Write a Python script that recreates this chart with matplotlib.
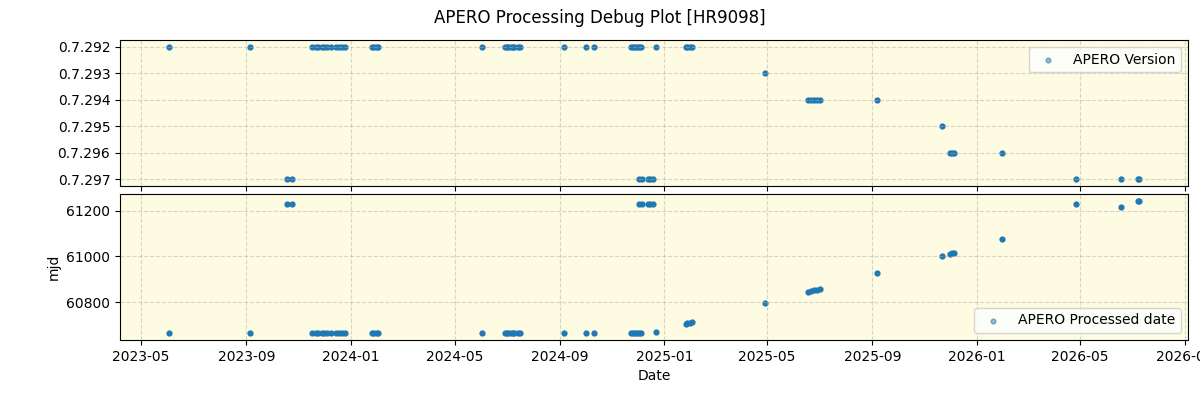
import pandas as pd
import numpy as np
import matplotlib
matplotlib.use("Agg")
import matplotlib.pyplot as plt
import matplotlib.dates as mdates

# Observation dates, APERO version used and processed date (MJD)
obs_dates = [
    "2023-06-02", "2023-09-05", "2023-10-18", "2023-10-24",
    "2023-11-17", "2023-11-21", "2023-11-24", "2023-11-28", "2023-12-01",
    "2023-12-04", "2023-12-09", "2023-12-15", "2023-12-18", "2023-12-22",
    "2023-12-25", "2024-01-26", "2024-01-28", "2024-01-31", "2024-02-02",
    "2024-06-02", "2024-06-29", "2024-07-01", "2024-07-03", "2024-07-06",
    "2024-07-08", "2024-07-10", "2024-07-14", "2024-07-16", "2024-09-06",
    "2024-10-01", "2024-10-11", "2024-11-23", "2024-11-25", "2024-11-28",
    "2024-11-30", "2024-12-02", "2024-12-05", "2024-12-03", "2024-12-06",
    "2024-12-13", "2024-12-15", "2024-12-19", "2024-12-22", "2025-01-26",
    "2025-01-28", "2025-01-31", "2025-02-02", "2025-04-29", "2025-06-18",
    "2025-06-21", "2025-06-25", "2025-06-28", "2025-07-02", "2025-09-07",
    "2025-11-21", "2025-12-01", "2025-12-03", "2025-12-05", "2026-01-30",
    "2026-04-27", "2026-06-19", "2026-07-08", "2026-07-10",
]
versions = [
    "0.7.292", "0.7.292", "0.7.297", "0.7.297",
    "0.7.292", "0.7.292", "0.7.292", "0.7.292", "0.7.292",
    "0.7.292", "0.7.292", "0.7.292", "0.7.292", "0.7.292",
    "0.7.292", "0.7.292", "0.7.292", "0.7.292", "0.7.292",
    "0.7.292", "0.7.292", "0.7.292", "0.7.292", "0.7.292",
    "0.7.292", "0.7.292", "0.7.292", "0.7.292", "0.7.292",
    "0.7.292", "0.7.292", "0.7.292", "0.7.292", "0.7.292",
    "0.7.292", "0.7.292", "0.7.292", "0.7.297", "0.7.297",
    "0.7.297", "0.7.297", "0.7.297", "0.7.292", "0.7.292",
    "0.7.292", "0.7.292", "0.7.292", "0.7.293", "0.7.294",
    "0.7.294", "0.7.294", "0.7.294", "0.7.294", "0.7.294",
    "0.7.295", "0.7.296", "0.7.296", "0.7.296", "0.7.296",
    "0.7.297", "0.7.297", "0.7.297", "0.7.297",
]
processed_mjd = [
    60665, 60665, 61230, 61230,
    60665, 60665, 60665, 60665, 60665,
    60665, 60665, 60665, 60665, 60665,
    60665, 60665, 60665, 60665, 60665,
    60665, 60665, 60665, 60665, 60665,
    60665, 60665, 60665, 60665, 60665,
    60665, 60665, 60665, 60665, 60665,
    60665, 60665, 60665, 61230, 61230,
    61230, 61230, 61230, 60670, 60705,
    60708, 60712, 60715, 60796, 60846,
    60849, 60852, 60856, 60860, 60926,
    61004, 61011, 61014, 61017, 61074,
    61230, 61217, 61243, 61243,
]
version_order = ["0.7.292", "0.7.293", "0.7.294", "0.7.295", "0.7.296", "0.7.297"]

df = pd.DataFrame({"date": pd.to_datetime(obs_dates), "version": versions,
                   "mjd": processed_mjd})
df["vidx"] = df["version"].map({v: i for i, v in enumerate(version_order)})

bg = "#fdfbe2"
fig, (ax1, ax2) = plt.subplots(2, 1, figsize=(12, 4), sharex=True)
plt.subplots_adjust(left=0.1, right=0.99, top=0.9, bottom=0.15, hspace=0.055)
fig.suptitle("APERO Processing Debug Plot [HR9098]", y=0.977)

ax1.scatter(df["date"], df["vidx"], s=12, color="#1f77b4", label="APERO Version")
ax1.set_yticks(range(len(version_order)))
ax1.set_yticklabels(version_order)
ax1.set_ylim(len(version_order) - 1 + 0.25, -0.25)
ax1.set_facecolor(bg)
ax1.grid(True, linestyle="--", alpha=0.5)
leg1 = ax1.legend(loc="upper right")
for h in leg1.legend_handles:
    h.set_alpha(0.5)

ax2.scatter(df["date"], df["mjd"], s=12, color="#1f77b4", label="APERO Processed date")
ax2.set_facecolor(bg)
ax2.grid(True, linestyle="--", alpha=0.5)
ax2.set_ylabel("mjd")
ax2.set_xlabel("Date")
ax2.set_yticks([60800, 61000, 61200])
leg2 = ax2.legend(loc="lower right")
for h in leg2.legend_handles:
    h.set_alpha(0.5)

ax2.xaxis.set_major_locator(mdates.MonthLocator(bymonth=[1, 5, 9]))
ax2.xaxis.set_major_formatter(mdates.DateFormatter("%Y-%m"))

fig.savefig("out.png", dpi=100)
